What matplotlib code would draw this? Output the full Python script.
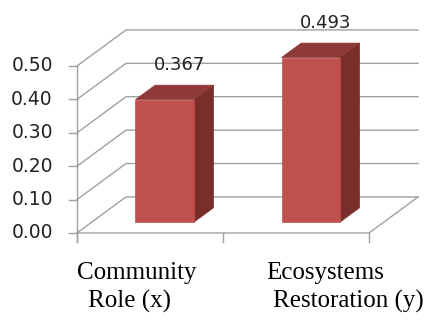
#!/usr/bin/env python3
"""3-D style column chart of community role vs. ecosystems restoration."""

import matplotlib
matplotlib.use("Agg")
import matplotlib.pyplot as plt
from matplotlib.patches import Polygon

categories = ["Community\nRole (x)", "Ecosystems\nRestoration (y)"]
values = [0.367, 0.493]
value_labels = ["0.367", "0.493"]
yticks = [0.0, 0.1, 0.2, 0.3, 0.4, 0.5]
ytick_labels = ["0.00", "0.10", "0.20", "0.30", "0.40", "0.50"]

# oblique projection: full depth of the plot box in data units
DDX = 0.336
DDY = 0.108
BAR_W = 0.4
F0, F1 = 0.3, 0.7   # bar front / back as fraction of depth

GRID = "#a0a0a0"
FRONT = "#c0504d"
TOP = "#8e3a38"
SIDE = "#7a2e2c"

fig = plt.figure(figsize=(4.26, 3.21), dpi=100)
ax = fig.add_axes([0, 0, 1, 1])
ax.set_xlim(-0.527, 2.390)
ax.set_ylim(-0.2635, 0.6976)
ax.axis("off")

n = len(values)

# side wall and back wall gridlines
for t in yticks:
    ax.plot([0, DDX, n + DDX], [t, t + DDY, t + DDY],
            color=GRID, lw=1.0, zorder=1, solid_joinstyle="miter")
    ax.plot([-0.055, 0], [t, t], color=GRID, lw=1.0, zorder=1)
    ax.text(-0.165, t, ytick_labels[yticks.index(t)], ha="right", va="center",
            fontsize=13.5, color="#222222", family="DejaVu Sans")

# floor front edge, right edge and front vertical axis
ax.plot([0, n, n + DDX], [0, 0, DDY], color=GRID, lw=1.0, zorder=1)
ax.plot([0, 0], [-0.027, yticks[-1]], color=GRID, lw=1.0, zorder=1)
for i in range(n + 1):
    ax.plot([i, i], [0, -0.027], color=GRID, lw=1.0, zorder=1)

for i, v in enumerate(values):
    x0 = i + 0.5 - BAR_W / 2
    x1 = x0 + BAR_W
    ax0, ay0 = F0 * DDX, F0 * DDY
    ax1, ay1 = F1 * DDX, F1 * DDY
    front = [(x0 + ax0, ay0), (x1 + ax0, ay0), (x1 + ax0, v + ay0), (x0 + ax0, v + ay0)]
    top = [(x0 + ax0, v + ay0), (x1 + ax0, v + ay0), (x1 + ax1, v + ay1), (x0 + ax1, v + ay1)]
    side = [(x1 + ax0, ay0), (x1 + ax1, ay1), (x1 + ax1, v + ay1), (x1 + ax0, v + ay0)]
    for pts, c in [(side, SIDE), (top, TOP), (front, FRONT)]:
        ax.add_patch(Polygon(pts, closed=True, facecolor=c, edgecolor=c,
                             lw=0.5, zorder=2))
    ax.text(i + 0.5 + 0.6 * DDX, v + 0.137, value_labels[i], ha="center",
            va="center", fontsize=13, color="#222222", zorder=3)

# category labels, two lines each, Times-like serif
cat_offsets = [[-0.089, -0.137], [0.199, 0.356]]
for i, lab in enumerate(categories):
    for j, line in enumerate(lab.split("\n")):
        ax.text(i + 0.5 + cat_offsets[i][j], -0.138 - j * 0.084, line,
                ha="center", va="baseline", fontsize=18,
                family="Liberation Serif", color="black")

fig.savefig("out.png", dpi=100)
